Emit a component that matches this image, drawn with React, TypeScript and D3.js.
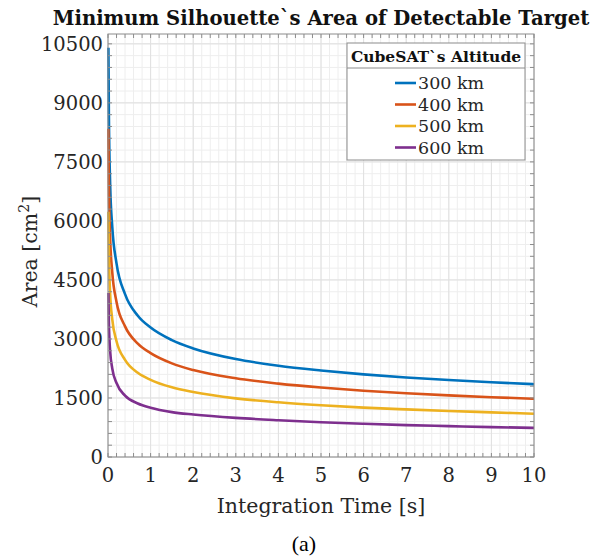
import { useEffect } from "react";
import * as d3 from "d3";

// ── Data ──────────────────────────────────────────────────────────────────────

const TIMES = [0.01, 0.02, 0.05, 0.1, 0.2, 0.4, 0.7, 1, 1.5, 2, 3, 4, 5, 6, 7, 8, 9, 10];

const AREA_300 = [10400, 8750, 6950, 5850, 4920, 4140, 3590, 3290, 2970, 2760, 2490, 2320, 2200, 2100, 2020, 1955, 1900, 1850];
const AREA_400 = [8340, 7010, 5580, 4690, 3940, 3320, 2880, 2640, 2380, 2210, 2000, 1865, 1765, 1685, 1620, 1565, 1520, 1480];
const AREA_500 = [6230, 5240, 4160, 3500, 2940, 2470, 2140, 1960, 1770, 1650, 1490, 1390, 1315, 1255, 1210, 1170, 1135, 1100];
const AREA_600 = [4170, 3450, 2700, 2250, 1880, 1560, 1360, 1250, 1140, 1080, 995, 935, 885, 845, 810, 785, 760, 740];

const SERIES_NAMES = ["300 km", "400 km", "500 km", "600 km"];
const SERIES_COLORS = ["#0072BD", "#D95319", "#EDB120", "#7E2F8E"];
const SERIES = [AREA_300, AREA_400, AREA_500, AREA_600];

const X_TICKS = [0, 1, 2, 3, 4, 5, 6, 7, 8, 9, 10];
const Y_TICKS = [0, 1500, 3000, 4500, 6000, 7500, 9000, 10500];

// ── Layout ────────────────────────────────────────────────────────────────────

const W = 600;
const H = 556;
const M = { left: 108, right: 66, top: 34, bottom: 99 };
const FONT = "'DejaVu Serif', serif";

export default function App() {
  useEffect(() => {
    document.body.style.margin = "0";
  }, []);

  const x = d3.scaleLinear().domain([0, 10]).range([M.left, W - M.right]);
  const y = d3.scaleLinear().domain([0, 10750]).range([H - M.bottom, M.top]);

  const xMinor = d3.range(0, 10.001, 0.2);
  const yMinor = d3.range(0, 10750, 300);

  const line = d3
    .line<[number, number]>()
    .x((d) => x(d[0]))
    .y((d) => y(d[1]))
    .curve(d3.curveMonotoneX);

  const [x0, x1] = x.range();
  const [y0, y1] = y.range();

  return (
    <svg width={W} height={H} style={{ display: "block", background: "#fff" }}>
      {/* minor grid */}
      {xMinor.map((v) => (
        <line key={"gx" + v} x1={x(v)} x2={x(v)} y1={y0} y2={y1} stroke="#eeeeee" strokeWidth={1} />
      ))}
      {yMinor.map((v) => (
        <line key={"gy" + v} x1={x0} x2={x1} y1={y(v)} y2={y(v)} stroke="#eeeeee" strokeWidth={1} />
      ))}
      {/* major grid */}
      {X_TICKS.map((v) => (
        <line key={"Gx" + v} x1={x(v)} x2={x(v)} y1={y0} y2={y1} stroke="#e0e0e0" strokeWidth={1} />
      ))}
      {Y_TICKS.map((v) => (
        <line key={"Gy" + v} x1={x0} x2={x1} y1={y(v)} y2={y(v)} stroke="#e0e0e0" strokeWidth={1} />
      ))}

      {/* curves */}
      {SERIES.map((s, i) => (
        <path
          key={SERIES_NAMES[i]}
          d={line(TIMES.map((t, j) => [t, s[j]] as [number, number])) ?? ""}
          fill="none"
          stroke={SERIES_COLORS[i]}
          strokeWidth={2.6}
        />
      ))}

      {/* frame */}
      <rect x={x0} y={y1} width={x1 - x0} height={y0 - y1} fill="none" stroke="#8c8c8c" strokeWidth={1} />

      {/* ticks, inside, on all sides */}
      {xMinor.map((v) => (
        <g key={"tx" + v} stroke="#8c8c8c">
          <line x1={x(v)} x2={x(v)} y1={y0} y2={y0 - 4} />
          <line x1={x(v)} x2={x(v)} y1={y1} y2={y1 + 4} />
        </g>
      ))}
      {yMinor.map((v) => (
        <g key={"ty" + v} stroke="#8c8c8c">
          <line x1={x0} x2={x0 + 4} y1={y(v)} y2={y(v)} />
          <line x1={x1} x2={x1 - 4} y1={y(v)} y2={y(v)} />
        </g>
      ))}

      {/* tick labels */}
      {X_TICKS.map((v) => (
        <text key={"lx" + v} x={x(v)} y={y0 + 25} textAnchor="middle" fontFamily={FONT} fontSize={19.5} fill="#262626">
          {v}
        </text>
      ))}
      {Y_TICKS.map((v) => (
        <text key={"ly" + v} x={x0 - 5} y={y(v) + 7} textAnchor="end" fontFamily={FONT} fontSize={19.5} fill="#262626">
          {v}
        </text>
      ))}

      {/* axis labels */}
      <text x={(x0 + x1) / 2} y={y0 + 56} textAnchor="middle" fontFamily={FONT} fontSize={20.5} fill="#262626">
        Integration Time [s]
      </text>
      <text
        transform={`translate(37, ${(y0 + y1) / 2 + 6}) rotate(-90)`}
        textAnchor="middle"
        fontFamily={FONT}
        fontSize={20.5}
        fill="#262626"
      >
        Area [cm<tspan dy={-8} fontSize={14}>2</tspan><tspan dy={8}>]</tspan>
      </text>

      {/* title */}
      <text x={(x0 + x1) / 2} y={25} textAnchor="middle" fontFamily={FONT} fontSize={19.6} fontWeight="bold" fill="#111">
        Minimum Silhouette`s Area of Detectable Target
      </text>

      {/* legend */}
      <g>
        <rect x={347} y={43} width={178} height={117} fill="#fff" stroke="#8c8c8c" strokeWidth={1} />
        <line x1={347} x2={525} y1={68} y2={68} stroke="#8c8c8c" strokeWidth={1} />
        <text x={436} y={62} textAnchor="middle" fontFamily={FONT} fontSize={15.5} fontWeight="bold" fill="#111">
          CubeSAT`s Altitude
        </text>
        {SERIES_NAMES.map((name, i) => {
          const ly = 83 + i * 21.5;
          return (
            <g key={"leg" + name}>
              <line x1={395} x2={416} y1={ly} y2={ly} stroke={SERIES_COLORS[i]} strokeWidth={2.6} />
              <text x={418} y={ly + 6} fontFamily={FONT} fontSize={17.5} fill="#262626">
                {name}
              </text>
            </g>
          );
        })}
      </g>

      {/* caption */}
      <text x={W / 2 + 4} y={551} textAnchor="middle" fontFamily="'Liberation Serif', serif" fontSize={22} fill="#000">
        (a)
      </text>
    </svg>
  );
}
